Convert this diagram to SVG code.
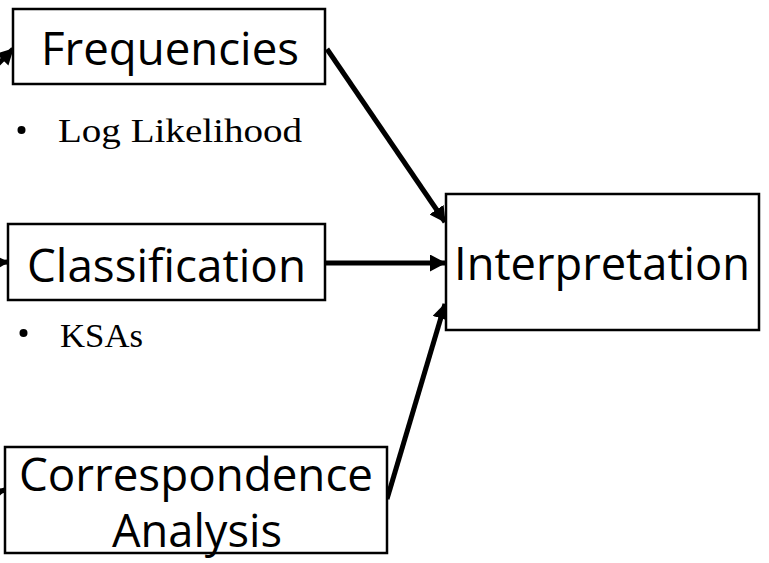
<svg xmlns="http://www.w3.org/2000/svg" width="769" height="563" viewBox="0 0 769 563">
<style>
.box{fill:#fff;stroke:#000;stroke-width:2.5}
.lbl{font-family:"Open Sans","Noto Sans","DejaVu Sans",sans-serif;font-weight:400;font-size:45px;fill:#000;text-anchor:middle}
.bul{font-family:"Liberation Serif","Times New Roman",serif;font-size:33px;fill:#000}
.con{stroke:#000;stroke-width:5;fill:none;marker-end:url(#ah)}
</style>
<defs>
<marker id="ah" viewBox="0 0 16 17" refX="15" refY="8.5" markerWidth="16" markerHeight="17" markerUnits="userSpaceOnUse" orient="auto">
<path d="M0,0 L16,8.5 L0,17 Z" fill="#000"/>
</marker>
</defs>
<g id="connectors">
<line class="con" x1="-20" y1="82" x2="13" y2="49"/>
<line class="con" x1="-30" y1="264" x2="8" y2="262"/>
<line class="con" x1="-30" y1="500" x2="5" y2="490"/>
<line class="con" x1="327" y1="49" x2="445" y2="222"/>
<line class="con" x1="325" y1="263" x2="445" y2="263"/>
<line class="con" x1="387" y1="499" x2="445" y2="304"/>
</g>
<g id="frequencies">
<rect class="box" x="13" y="9" width="312" height="75"/>
<text class="lbl" x="170" y="65" textLength="258" lengthAdjust="spacingAndGlyphs">Frequencies</text>
</g>
<g id="log-likelihood">
<circle cx="21.5" cy="130" r="4" fill="#000"/>
<text class="bul" x="58" y="142" textLength="244" lengthAdjust="spacingAndGlyphs">Log Likelihood</text>
</g>
<g id="classification">
<rect class="box" x="8" y="224" width="317" height="76"/>
<text class="lbl" x="166.5" y="282" textLength="279" lengthAdjust="spacingAndGlyphs">Classification</text>
</g>
<g id="ksas">
<circle cx="23.5" cy="333" r="4" fill="#000"/>
<text class="bul" x="60" y="347" textLength="83" lengthAdjust="spacingAndGlyphs">KSAs</text>
</g>
<g id="correspondence">
<rect class="box" x="5" y="447" width="382" height="106"/>
<text class="lbl" x="196" y="491" textLength="354" lengthAdjust="spacingAndGlyphs">Correspondence</text>
<text class="lbl" x="197" y="547" textLength="170" lengthAdjust="spacingAndGlyphs">Analysis</text>
</g>
<g id="interpretation">
<rect class="box" x="446" y="194" width="313" height="136"/>
<text class="lbl" x="602" y="280" textLength="296" lengthAdjust="spacingAndGlyphs">Interpretation</text>
</g>
</svg>
